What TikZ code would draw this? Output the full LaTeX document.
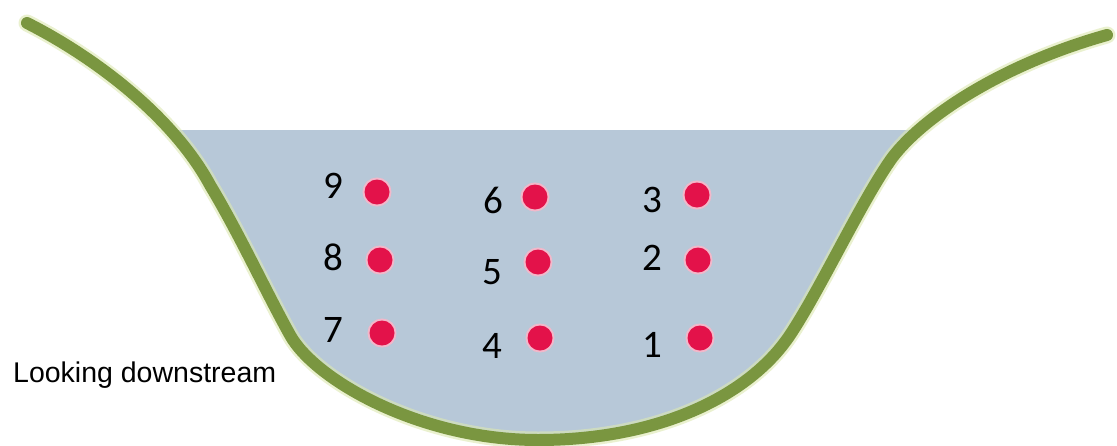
\documentclass[tikz,border=0pt]{standalone}
\usepackage{fontspec}
\newfontfamily\numfont{Carlito}
\newfontfamily\labfont{Liberation Sans}
\definecolor{water}{HTML}{B7C8D8}
\definecolor{bank}{HTML}{7A9640}
\definecolor{bankglow}{HTML}{DCE8B0}
\definecolor{dotred}{HTML}{E3124A}
\definecolor{dothalo}{HTML}{F2B8CA}
\tikzset{
  num/.style={font=\numfont\fontsize{39}{41}\selectfont, inner sep=0pt, text=black},
  probe/.style={circle, fill=dotred, minimum size=25pt, inner sep=0pt,
    preaction={draw=dothalo, line width=4pt}},
  banktop/.style={line width=12pt, draw=bank, line cap=round, line join=round},
}
\begin{document}
\begin{tikzpicture}[x=1pt, y=-1pt]
\useasboundingbox[fill=white] (0,0) rectangle (1117,445);
% channel cross-section: left bank, bed, right bank
\def\bankline{(27,23) .. controls (100,60) and (175,120) .. (210,185)
  .. controls (240,235) and (265,290) .. (290,335)
  .. controls (315,380) and (420,440) .. (538,440)
  .. controls (660,440) and (750,395) .. (790,335)
  .. controls (820,290) and (862,200) .. (892,158)
  .. controls (922,118) and (1000,65) .. (1107,35)}
% water below the surface line, bounded by the channel
\begin{scope}
  \clip (0,130) rectangle (1117,445);
  \fill[water] \bankline -- cycle;
\end{scope}
\draw[line width=17pt, draw=bankglow, line cap=round, opacity=0.6] \bankline;
\draw[banktop] \bankline;
% sampling points
\node[probe] (p9) at (377,192) {};
\node[probe] (p6) at (535,197) {};
\node[probe] (p3) at (697,195) {};
\node[probe] (p8) at (380,260) {};
\node[probe] (p5) at (538,262) {};
\node[probe] (p2) at (698,260) {};
\node[probe] (p7) at (382,333) {};
\node[probe] (p4) at (540,338) {};
\node[probe] (p1) at (700,338) {};
% point numbers
\node[num] (n9) at (333,186) {9};
\node[num] (n6) at (493,200) {6};
\node[num] (n3) at (652,200) {3};
\node[num] (n8) at (333,257) {8};
\node[num] (n5) at (492,272) {5};
\node[num] (n2) at (652,258) {2};
\node[num] (n7) at (333,330) {7};
\node[num] (n4) at (492,346) {4};
\node[num] (n1) at (652,345) {1};
% caption
\node[font=\labfont\fontsize{28.5}{30}\selectfont, anchor=base west, inner sep=0pt]
  (cap) at (13,382) {Looking downstream};
\end{tikzpicture}
\end{document}
